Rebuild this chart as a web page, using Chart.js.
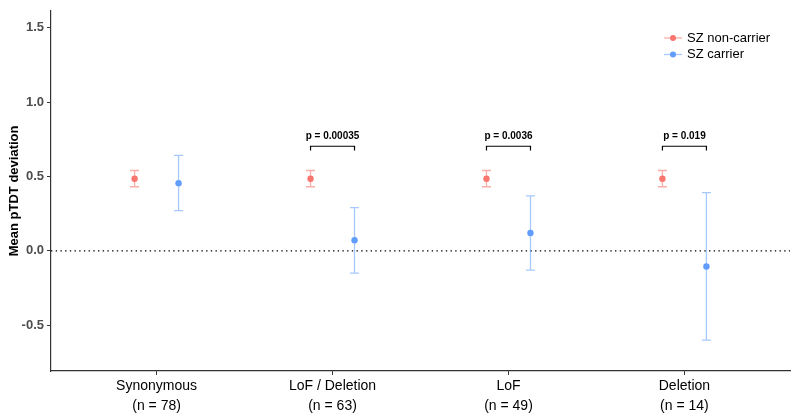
<!DOCTYPE html>
<html>
<head>
<meta charset="utf-8">
<script src="https://cdn.jsdelivr.net/npm/chart.js@4/dist/chart.umd.min.js"></script>
<style>
  body { margin: 0; background: #fff; }
  #wrap { width: 800px; height: 420px; }
</style>
</head>
<body>
<div id="wrap"><canvas id="chart" width="800" height="420"></canvas></div>
<script>
var categories  = ["Synonymous", "LoF / Deletion", "LoF", "Deletion"];
var sampleSizes = ["(n = 78)", "(n = 63)", "(n = 49)", "(n = 14)"];

var nonCarrierMean = [0.485, 0.485, 0.485, 0.485];
var nonCarrierLow  = [0.431, 0.431, 0.431, 0.431];
var nonCarrierHigh = [0.540, 0.540, 0.540, 0.540];

var carrierMean = [0.455, 0.071, 0.120, -0.105];
var carrierLow  = [0.271, -0.149, -0.129, -0.600];
var carrierHigh = [0.642, 0.291, 0.369, 0.391];

var pValues = [null, "p = 0.00035", "p = 0.0036", "p = 0.019"];
var yTicks  = [-0.5, 0, 0.5, 1.0, 1.5];

var FONT   = "'Liberation Sans', Arial, sans-serif";
var dodge  = 0.125;
var rouge  = "#F8766D";
var bleu   = "#619CFF";

function points(means, lows, highs, offset) {
  return means.map(function(m, i) {
    return { x: i + 1 + offset, y: m, lo: lows[i], hi: highs[i] };
  });
}

// barres d'erreur + ligne pointillée à zéro
var errorBars = {
  id: "errorBars",
  beforeDatasetsDraw: function(chart) {
    var ctx = chart.ctx, xs = chart.scales.x, ys = chart.scales.y, area = chart.chartArea;
    ctx.save();
    ctx.strokeStyle = "#000";
    ctx.lineWidth = 1.3;
    ctx.setLineDash([1.4, 3.3]);
    ctx.beginPath();
    ctx.moveTo(area.left, ys.getPixelForValue(0));
    ctx.lineTo(area.right, ys.getPixelForValue(0));
    ctx.stroke();
    ctx.setLineDash([]);

    chart.data.datasets.forEach(function(ds) {
      ctx.strokeStyle = ds.barColor;
      ctx.lineWidth = 1.3;
      ds.data.forEach(function(p) {
        var x = xs.getPixelForValue(p.x);
        var y1 = ys.getPixelForValue(p.lo), y2 = ys.getPixelForValue(p.hi);
        ctx.beginPath();
        ctx.moveTo(x, y1); ctx.lineTo(x, y2);
        ctx.moveTo(x - 4.5, y1); ctx.lineTo(x + 4.5, y1);
        ctx.moveTo(x - 4.5, y2); ctx.lineTo(x + 4.5, y2);
        ctx.stroke();
      });
    });
    ctx.restore();
  },
  afterDraw: function(chart) {
    var ctx = chart.ctx, xs = chart.scales.x, ys = chart.scales.y;
    ctx.save();
    // crochets de significativité
    ctx.strokeStyle = "#000";
    ctx.lineWidth = 1.2;
    ctx.fillStyle = "#000";
    ctx.font = "bold 10px " + FONT;
    ctx.textAlign = "center";
    ctx.textBaseline = "middle";
    pValues.forEach(function(p, i) {
      if (!p) return;
      var xa = xs.getPixelForValue(i + 1 - dodge);
      var xb = xs.getPixelForValue(i + 1 + dodge);
      var yt = ys.getPixelForValue(0.703);
      var yb = ys.getPixelForValue(0.675);
      ctx.beginPath();
      ctx.moveTo(xa, yb); ctx.lineTo(xa, yt); ctx.lineTo(xb, yt); ctx.lineTo(xb, yb);
      ctx.stroke();
      ctx.fillText(p, (xa + xb) / 2, ys.getPixelForValue(0.77));
    });

    // légende
    ctx.font = "13px " + FONT;
    ctx.textAlign = "left";
    chart.data.datasets.forEach(function(ds, k) {
      var y = 38 + k * 16.5;
      ctx.strokeStyle = ds.barColor;
      ctx.lineWidth = 1.3;
      ctx.beginPath();
      ctx.moveTo(664, y); ctx.lineTo(682, y);
      ctx.stroke();
      ctx.fillStyle = ds.backgroundColor;
      ctx.beginPath();
      ctx.arc(673, y, 3, 0, Math.PI * 2);
      ctx.fill();
      ctx.fillStyle = "#000";
      ctx.fillText(ds.label, 687, y);
    });
    ctx.restore();
  }
};

new Chart(document.getElementById("chart"), {
  type: "scatter",
  data: {
    datasets: [
      {
        label: "SZ non-carrier",
        data: points(nonCarrierMean, nonCarrierLow, nonCarrierHigh, -dodge),
        backgroundColor: rouge, borderColor: rouge, barColor: "rgba(248,118,109,0.6)",
        pointRadius: 3.2, borderWidth: 0
      },
      {
        label: "SZ carrier",
        data: points(carrierMean, carrierLow, carrierHigh, dodge),
        backgroundColor: bleu, borderColor: bleu, barColor: "rgba(97,156,255,0.55)",
        pointRadius: 3.2, borderWidth: 0
      }
    ]
  },
  options: {
    responsive: false,
    devicePixelRatio: 1,
    animation: false,
    layout: { padding: { left: 0, right: 10, top: 8, bottom: 0 } },
    plugins: { legend: { display: false }, tooltip: { enabled: false } },
    scales: {
      x: {
        type: "linear",
        min: 0.4, max: 4.6,
        afterBuildTicks: function(s) { s.ticks = categories.map(function(c, i) { return { value: i + 1 }; }); },
        afterFit: function(s) { s.height = 49; },
        grid: { drawOnChartArea: false, drawTicks: true, tickLength: 4, color: "#333" },
        border: { display: true, color: "#333", width: 1.2 },
        ticks: {
          autoSkip: false, maxRotation: 0, padding: 1,
          color: "#000", font: { family: FONT, size: 14, lineHeight: 1.43 },
          callback: function(v) { var i = Math.round(v) - 1; return [categories[i], sampleSizes[i]]; }
        }
      },
      y: {
        min: -0.807, max: 1.613,
        afterBuildTicks: function(s) { s.ticks = yTicks.map(function(v) { return { value: v }; }); },
        afterFit: function(s) { s.width = 51; },
        grid: { drawOnChartArea: false, drawTicks: true, tickLength: 4, color: "#333" },
        border: { display: true, color: "#333", width: 1.2 },
        ticks: {
          padding: 3, color: "#4d4d4d", font: { family: FONT, size: 13, weight: "bold" },
          callback: function(v) { return v.toFixed(1); }
        },
        title: {
          display: true, text: "Mean pTDT deviation", color: "#000",
          font: { family: FONT, size: 13, weight: "bold" }, padding: { top: 7, bottom: 0 }
        }
      }
    }
  },
  plugins: [errorBars]
});
</script>
</body>
</html>
